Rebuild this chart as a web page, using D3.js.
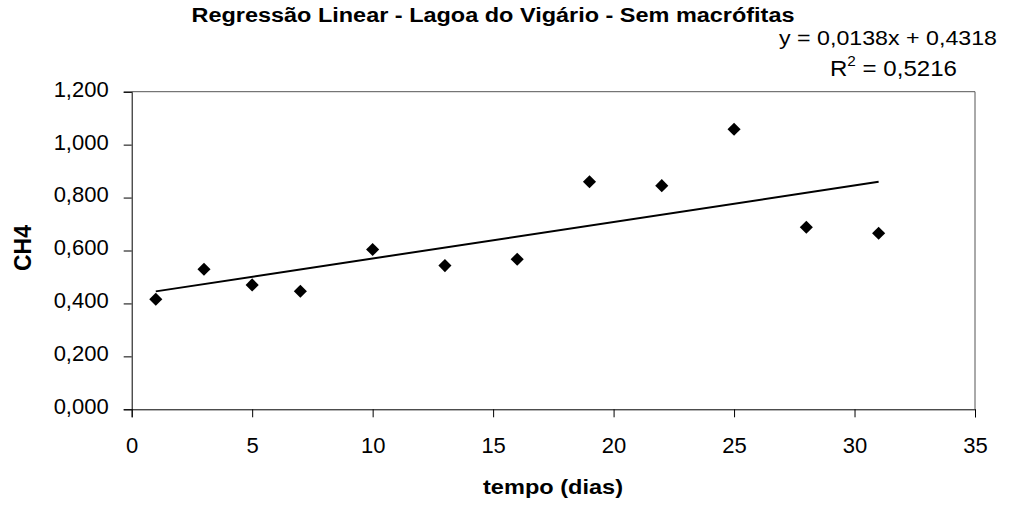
<!doctype html>
<html>
<head>
<meta charset="utf-8">
<script src="https://cdnjs.cloudflare.com/ajax/libs/d3/7.8.5/d3.min.js"></script>
<style>
  body { margin: 0; background: #fff; }
  text { font-family: "Liberation Sans", Arial, sans-serif; fill: #000; }
</style>
</head>
<body>
<svg width="1011" height="508"></svg>
<script>
// dias de coleta e CH4 medido
var dias = [1, 3, 5, 7, 10, 13, 16, 19, 22, 25, 28, 31];
var ch4 = [0.416, 0.529, 0.470, 0.446, 0.604, 0.543, 0.567, 0.860, 0.845, 1.058, 0.688, 0.665];
var xTicks = [0, 5, 10, 15, 20, 25, 30, 35];
var yTicks = [0, 0.2, 0.4, 0.6, 0.8, 1.0, 1.2];
// regressão y = a*x + b
var coefA = 0.0138, coefB = 0.4318, r2 = "0,5216";

var svg = d3.select("svg");
var pLeft = 131.7, pRight = 975, pTop = 91.7, pBottom = 409.3;

var x = d3.scaleLinear().domain([0, 35]).range([pLeft, pRight]);
var y = d3.scaleLinear().domain([0, 1.2]).range([pBottom, pTop]);
var fmt = d => d3.format(".3f")(d).replace(".", ",");

// moldura superior e direita
svg.append("path")
  .attr("d", "M" + pLeft + "," + pTop + "H" + pRight + "V" + pBottom)
  .attr("fill", "none").attr("stroke", "#555").attr("stroke-width", 1);

var gx = svg.append("g").attr("transform", "translate(0," + pBottom + ")")
  .call(d3.axisBottom(x).tickValues(xTicks).tickSize(8).tickPadding(20).tickFormat(d3.format("d")));
var gy = svg.append("g").attr("transform", "translate(" + pLeft + ",0)")
  .call(d3.axisLeft(y).tickValues(yTicks).tickSize(8).tickPadding(15).tickFormat(fmt));

[gx, gy].forEach(g => {
  g.select(".domain").attr("stroke", "#000");
  g.selectAll(".tick line").attr("stroke", "#000");
  g.selectAll("text").attr("font-size", 22).attr("font-family", "Liberation Sans, Arial, sans-serif").attr("fill", "#000");
});
gy.selectAll("text").attr("dy", "0.2em");
gx.selectAll("text").attr("dy", "0.71em");

// linha de tendência
var trend = [dias[0], dias[dias.length - 1]];
svg.append("line")
  .attr("x1", x(trend[0])).attr("y1", y(coefA * trend[0] + coefB))
  .attr("x2", x(trend[1])).attr("y2", y(coefA * trend[1] + coefB))
  .attr("stroke", "#000").attr("stroke-width", 2);

// pontos (losangos)
var diamond = d3.symbol().type(d3.symbolSquare).size(86);
svg.selectAll("path.pt")
  .data(dias.map((d, i) => [d, ch4[i]]))
  .enter().append("path")
  .attr("class", "pt")
  .attr("d", diamond)
  .attr("transform", d => "translate(" + x(d[0]) + "," + y(d[1]) + ") rotate(45)")
  .attr("fill", "#000");

// título
svg.append("text")
  .attr("x", 493).attr("y", 22)
  .attr("text-anchor", "middle")
  .attr("font-size", 20).attr("font-weight", "bold")
  .attr("textLength", 603).attr("lengthAdjust", "spacingAndGlyphs")
  .text("Regressão Linear - Lagoa do Vigário - Sem macrófitas");

// equação
svg.append("text")
  .attr("x", 779).attr("y", 45)
  .attr("font-size", 21)
  .attr("textLength", 218).attr("lengthAdjust", "spacingAndGlyphs")
  .text("y = " + String(coefA).replace(".", ",") + "x + " + String(coefB).replace(".", ","));

var rt = svg.append("text").attr("x", 830).attr("y", 76).attr("font-size", 22)
  .attr("textLength", 127).attr("lengthAdjust", "spacingAndGlyphs");
rt.append("tspan").text("R");
rt.append("tspan").attr("font-size", 14).attr("dy", -10).text("2");
rt.append("tspan").attr("dy", 10).text(" = " + r2);

// títulos dos eixos
svg.append("text")
  .attr("x", 553).attr("y", 494)
  .attr("text-anchor", "middle")
  .attr("font-size", 21).attr("font-weight", "bold")
  .attr("textLength", 140).attr("lengthAdjust", "spacingAndGlyphs")
  .text("tempo (dias)");

svg.append("text")
  .attr("transform", "translate(31,248) rotate(-90)")
  .attr("text-anchor", "middle")
  .attr("font-size", 23).attr("font-weight", "bold")
  .text("CH4");
</script>
</body>
</html>
